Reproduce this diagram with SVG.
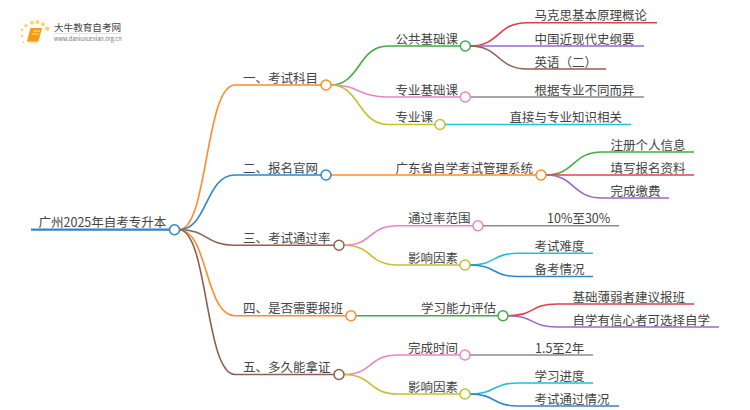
<svg xmlns="http://www.w3.org/2000/svg" width="750" height="410" viewBox="0 0 750 410">
<style>
text{font-family:"Noto Sans CJK SC","Noto Sans",sans-serif;font-size:12.5px;fill:#444}
.c path{fill:none;stroke-width:1.6}
circle{fill:#fff;stroke-width:1.5}
.d{stroke:none;fill:#fbd46a}
.o{stroke:#ff8c28}.b{stroke:#2f86c8}.br{stroke:#8f5f50}.g{stroke:#3fae3f}.r{stroke:#e0404a}.p{stroke:#9a68c8}.k{stroke:#ee82c8}.y{stroke:#c4c030}.t{stroke:#22c0d8}.h{stroke:#8c8c8c}
</style>
<rect width="750" height="410" fill="#fff"/>
<g id="logo">
<circle class="d" cx="22" cy="30" r="1.400"/><circle class="d" cx="26" cy="25.700" r="1.700"/><circle class="d" cx="32" cy="22.700" r="2"/><circle class="d" cx="37.500" cy="22" r="2"/><circle class="d" cx="43" cy="24.300" r="2"/><circle class="d" cx="47.300" cy="28.700" r="2.200"/><circle class="d" cx="22" cy="36" r="1.300"/><circle class="d" cx="23.300" cy="42.300" r="1"/>
<path d="M30.500 28H42L38.500 41H27Z" fill="#f59a14"/><path d="M27 41H38.500L37.500 42.500H28Z" fill="#fbc35a"/><path d="M33 31H40M32 34H39" stroke="#fde3a0" stroke-width="1" fill="none"/>
<text x="54" y="31" style="font-size:9.600px">大牛教育自考网</text>
<path d="M54 33.500H121" stroke="#ddd" stroke-width="0.800" fill="none"/>
<text x="54" y="41" style="font-size:5.600px;fill:#777">www.daniuxuexiao.org.cn</text>
</g>
<g id="connectors" class="c">
<path class="b" style="stroke-width:2.200" d="M31 229.700H169"/>
<path class="o" d="M179 229.700C208 229.700 205 85 235 85H321"/>
<path class="b" d="M179 229.700C208 229.700 205 175 235 175H321"/>
<path class="br" d="M179 229.700C208 229.700 205 245.300 235 245.300H334"/>
<path class="o" d="M179 229.700C208 229.700 205 315.700 235 315.700H346"/>
<path class="br" d="M179 229.700C208 229.700 205 374.500 235 374.500H334"/>
<path class="g" d="M331 85C360 85 358 46 388 46H460"/>
<path class="k" d="M331 85C360 85 358 97 388 97H460"/>
<path class="y" d="M331 85C360 85 358 124.500 388 124.500H435"/>
<path class="r" d="M470 46C500 46 497 22.700 527 22.700H657"/>
<path class="p" d="M470 46H644"/>
<path class="br" d="M470 46C500 46 497 69 527 69H606"/>
<path class="h" d="M470 97H644"/>
<path class="t" d="M445 124.500H631"/>
<path class="o" d="M331 175H536"/>
<path class="g" d="M546 175C575 175 572 152 602 152H694"/>
<path class="r" d="M546 175H694"/>
<path class="p" d="M546 175C575 175 572 198 602 198H669"/>
<path class="k" d="M344 245.300C373 245.300 368 225.700 398 225.700H473"/>
<path class="y" d="M344 245.300C373 245.300 368 265 398 265H460"/>
<path class="h" d="M483 225.700H619"/>
<path class="t" d="M470 265C496 265 492 253.300 518 253.300H593"/>
<path class="b" d="M470 265C496 265 492 276.500 518 276.500H593"/>
<path class="g" d="M356 315.700H498"/>
<path class="r" d="M508 315.700C535 315.700 530 304 557 304H694"/>
<path class="p" d="M508 315.700C535 315.700 530 327 557 327H719"/>
<path class="k" d="M344 374.500C373 374.500 368 355 398 355H460"/>
<path class="y" d="M344 374.500C373 374.500 368 394 398 394H460"/>
<path class="h" d="M470 355H593"/>
<path class="t" d="M470 394C496 394 492 383 518 383H593"/>
<path class="b" d="M470 394C496 394 492 406 518 406H619"/>
</g>
<g id="root"><text x="38.500" y="226.500">广州2025年自考专升本</text><circle class="b" cx="174.500" cy="229.700" r="5"/></g>
<g id="n1"><text x="243" y="82.500">一、考试科目</text><circle class="o" cx="326" cy="85" r="5"/></g>
<g id="n2"><text x="243" y="172.500">二、报名官网</text><circle class="b" cx="326" cy="175" r="5"/></g>
<g id="n3"><text x="243" y="243">三、考试通过率</text><circle class="br" cx="339" cy="245.300" r="5"/></g>
<g id="n4"><text x="243" y="313">四、是否需要报班</text><circle class="o" cx="351" cy="315.700" r="5"/></g>
<g id="n5"><text x="243" y="372">五、多久能拿证</text><circle class="br" cx="339" cy="374.500" r="5"/></g>
<g id="n11"><text x="395.500" y="43.500">公共基础课</text><circle class="g" cx="465.300" cy="46" r="5"/></g>
<g id="n12"><text x="395.500" y="94.500">专业基础课</text><circle class="k" cx="465.300" cy="97" r="5"/></g>
<g id="n13"><text x="395.500" y="122">专业课</text><circle class="y" cx="440" cy="124.500" r="5"/></g>
<g id="n111"><text x="534.500" y="20">马克思基本原理概论</text></g>
<g id="n112"><text x="534.500" y="43.500">中国近现代史纲要</text></g>
<g id="n113"><text x="534.500" y="66.500">英语（二）</text></g>
<g id="n121"><text x="534.500" y="94.500">根据专业不同而异</text></g>
<g id="n131"><text x="509.500" y="122">直接与专业知识相关</text></g>
<g id="n21"><text x="395.500" y="172.500">广东省自学考试管理系统</text><circle class="o" cx="541" cy="175" r="5"/></g>
<g id="n211"><text x="610.500" y="149.500">注册个人信息</text></g>
<g id="n212"><text x="610.500" y="172.500">填写报名资料</text></g>
<g id="n213"><text x="610.500" y="195.500">完成缴费</text></g>
<g id="n31"><text x="408" y="223">通过率范围</text><circle class="k" cx="478" cy="225.700" r="5"/></g>
<g id="n32"><text x="408" y="262.500">影响因素</text><circle class="y" cx="465" cy="265" r="5"/></g>
<g id="n311"><text x="547" y="223">10%至30%</text></g>
<g id="n321"><text x="534.500" y="250.500">考试难度</text></g>
<g id="n322"><text x="534.500" y="274">备考情况</text></g>
<g id="n41"><text x="421" y="313">学习能力评估</text><circle class="g" cx="503" cy="315.700" r="5"/></g>
<g id="n411"><text x="572.500" y="301.500">基础薄弱者建议报班</text></g>
<g id="n412"><text x="572.500" y="324.500">自学有信心者可选择自学</text></g>
<g id="n51"><text x="408" y="352.500">完成时间</text><circle class="k" cx="465" cy="355" r="5"/></g>
<g id="n52"><text x="408" y="391.500">影响因素</text><circle class="y" cx="465" cy="394" r="5"/></g>
<g id="n511"><text x="535" y="352.500">1.5至2年</text></g>
<g id="n521"><text x="534.500" y="380.500">学习进度</text></g>
<g id="n522"><text x="534.500" y="403.500">考试通过情况</text></g>
</svg>
